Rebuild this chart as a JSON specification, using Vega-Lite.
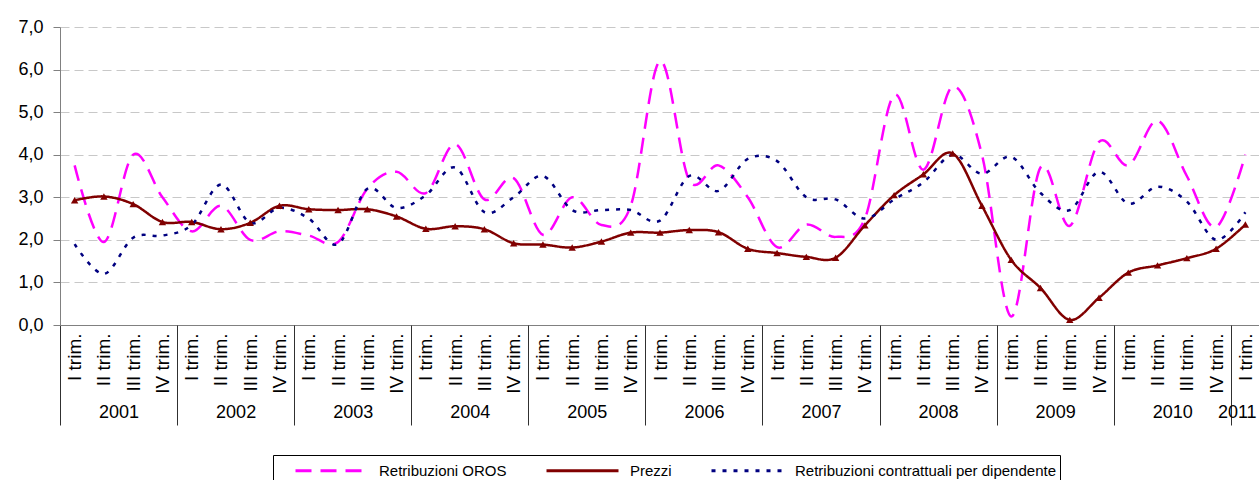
{
"$schema": "https://vega.github.io/schema/vega-lite/v6.json",
"width": 1200, "height": 298,
"autosize": {"type": "none"},
"padding": {"left": 60, "top": 27, "right": 0, "bottom": 155},
"background": "#ffffff",
"config": {"view": {"stroke": null}, "font": "Liberation Sans, Arial"},
"datasets": {"serie": [
{"q":"2001 I","oros":3.75,"prezzi":2.93,"contr":1.9},
{"q":"2001 II","oros":1.95,"prezzi":3.02,"contr":1.2},
{"q":"2001 III","oros":4.0,"prezzi":2.84,"contr":2.05},
{"q":"2001 IV","oros":3.0,"prezzi":2.42,"contr":2.1},
{"q":"2002 I","oros":2.2,"prezzi":2.42,"contr":2.35},
{"q":"2002 II","oros":2.8,"prezzi":2.25,"contr":3.3},
{"q":"2002 III","oros":2.0,"prezzi":2.4,"contr":2.4},
{"q":"2002 IV","oros":2.2,"prezzi":2.8,"contr":2.75},
{"q":"2003 I","oros":2.1,"prezzi":2.72,"contr":2.5},
{"q":"2003 II","oros":1.95,"prezzi":2.7,"contr":1.9},
{"q":"2003 III","oros":3.2,"prezzi":2.72,"contr":3.2},
{"q":"2003 IV","oros":3.6,"prezzi":2.55,"contr":2.75},
{"q":"2004 I","oros":3.1,"prezzi":2.26,"contr":3.05},
{"q":"2004 II","oros":4.25,"prezzi":2.32,"contr":3.7},
{"q":"2004 III","oros":2.95,"prezzi":2.25,"contr":2.65},
{"q":"2004 IV","oros":3.45,"prezzi":1.92,"contr":3.0},
{"q":"2005 I","oros":2.12,"prezzi":1.89,"contr":3.5},
{"q":"2005 II","oros":3.0,"prezzi":1.82,"contr":2.7},
{"q":"2005 III","oros":2.35,"prezzi":1.96,"contr":2.7},
{"q":"2005 IV","oros":2.8,"prezzi":2.17,"contr":2.7},
{"q":"2006 I","oros":6.2,"prezzi":2.17,"contr":2.45},
{"q":"2006 II","oros":3.4,"prezzi":2.23,"contr":3.5},
{"q":"2006 III","oros":3.75,"prezzi":2.18,"contr":3.15},
{"q":"2006 IV","oros":3.0,"prezzi":1.79,"contr":3.9},
{"q":"2007 I","oros":1.83,"prezzi":1.69,"contr":3.85},
{"q":"2007 II","oros":2.36,"prezzi":1.6,"contr":3.0},
{"q":"2007 III","oros":2.07,"prezzi":1.58,"contr":2.95},
{"q":"2007 IV","oros":2.5,"prezzi":2.34,"contr":2.5},
{"q":"2008 I","oros":5.4,"prezzi":3.05,"contr":2.95},
{"q":"2008 II","oros":3.65,"prezzi":3.54,"contr":3.35},
{"q":"2008 III","oros":5.6,"prezzi":4.03,"contr":4.0},
{"q":"2008 IV","oros":4.0,"prezzi":2.8,"contr":3.55},
{"q":"2009 I","oros":0.2,"prezzi":1.53,"contr":3.95},
{"q":"2009 II","oros":3.7,"prezzi":0.87,"contr":3.1},
{"q":"2009 III","oros":2.33,"prezzi":0.12,"contr":2.7},
{"q":"2009 IV","oros":4.3,"prezzi":0.64,"contr":3.6},
{"q":"2010 I","oros":3.75,"prezzi":1.23,"contr":2.85},
{"q":"2010 II","oros":4.8,"prezzi":1.4,"contr":3.25},
{"q":"2010 III","oros":3.5,"prezzi":1.57,"contr":2.9},
{"q":"2010 IV","oros":2.3,"prezzi":1.79,"contr":2.0},
{"q":"2011 I","oros":4.0,"prezzi":2.36,"contr":2.65}
]},
"data": {"name": "serie"},
"transform": [
{"fold": ["oros", "prezzi", "contr"], "as": ["s", "v"]}
],
"encoding": {
"y": {"field": "v", "type": "quantitative",
 "scale": {"domain": [0, 7], "nice": false, "zero": true},
 "axis": {"title": null, "values": [0,1,2,3,4,5,6,7],
  "labelExpr": "replace(format(datum.value, '.1f'), '.', ',')",
  "domainColor": "#808080", "tickColor": "#808080", "tickSize": 7, "labelPadding": 10,
  "labelFontSize": 18, "labelColor": "#000000",
  "grid": true, "gridDash": [9, 5], "gridColor": "#c8c8c8"}}
},
"layer": [
{"mark": {"type": "line", "interpolate": "cardinal", "strokeWidth": 2.5},
 "encoding": {
  "x": {"field": "q", "type": "ordinal", "scale": {"type": "point", "padding": 0.5},
   "axis": {"orient": "bottom", "title": null, "labelAngle": 270, "labelAlign": "right", "labelBaseline": "middle",
    "labelExpr": "split(datum.value, ' ')[1] + ' trim.'",
    "ticks": false, "domain": true, "domainColor": "#808080", "grid": false,
    "labelFontSize": 19, "labelColor": "#000000", "labelPadding": 8,
    "labelOverlap": false, "labelBound": false}},
  "color": {"field": "s", "type": "nominal",
   "scale": {"domain": ["oros", "prezzi", "contr"], "range": ["#ff00ff", "#800000", "#000080"]},
   "legend": {"orient": "none", "legendX": 213, "legendY": 428, "direction": "horizontal", "columns": 3,
    "title": null, "symbolType": "M -3.6,0 L 3.6,0", "symbolSize": 400, "symbolStrokeWidth": 3,
    "labelExpr": "datum.value == 'oros' ? 'Retribuzioni OROS' : datum.value == 'prezzi' ? 'Prezzi' : 'Retribuzioni contrattuali per dipendente'",
    "labelFontSize": 15, "labelColor": "#000000", "strokeColor": "#000000", "fillColor": "#ffffff",
    "padding": 4, "columnPadding": 21, "symbolOffset": 43, "labelOffset": 36, "labelLimit": 400}},
  "strokeDash": {"field": "s", "type": "nominal",
   "scale": {"domain": ["oros", "prezzi", "contr"], "range": [[16, 9], [1, 0], [4, 7]]},
   "legend": {"orient": "none", "legendX": 213, "legendY": 428, "direction": "horizontal", "columns": 3,
    "title": null, "symbolType": "M -3.6,0 L 3.6,0", "symbolSize": 400, "symbolStrokeWidth": 3,
    "labelExpr": "datum.value == 'oros' ? 'Retribuzioni OROS' : datum.value == 'prezzi' ? 'Prezzi' : 'Retribuzioni contrattuali per dipendente'",
    "labelFontSize": 15, "labelColor": "#000000", "strokeColor": "#000000", "fillColor": "#ffffff",
    "padding": 4, "columnPadding": 21, "symbolOffset": 43, "labelOffset": 36, "labelLimit": 400}}
 }},
{"transform": [{"filter": "datum.s === 'prezzi'"}],
 "mark": {"type": "point", "shape": "triangle-up", "filled": true, "size": 55, "color": "#800000", "opacity": 1},
 "encoding": {
  "x": {"field": "q", "type": "ordinal", "scale": {"type": "point", "padding": 0.5},
   "axis": {"orient": "bottom", "title": null,
    "values": ["2001 I","2002 I","2003 I","2004 I","2005 I","2006 I","2007 I","2008 I","2009 I","2010 I","2011 I"],
    "labelExpr": "split(datum.value, ' ')[0]",
    "labelAngle": 0, "labelAlign": "center", "labelBaseline": "middle",
    "ticks": true, "tickSize": 100, "tickColor": "#303030", "tickWidth": 1, "tickOffset": -14.63,
    "labelOffset": {"condition": {"test": "datum.value == '2011 I'", "value": 6}, "value": 58.54},
    "labelPadding": -13, "domain": false, "grid": false,
    "labelFontSize": 18, "labelColor": "#000000", "labelOverlap": false, "labelBound": false}}
 }}
],
"resolve": {"axis": {"x": "independent"}}
}
